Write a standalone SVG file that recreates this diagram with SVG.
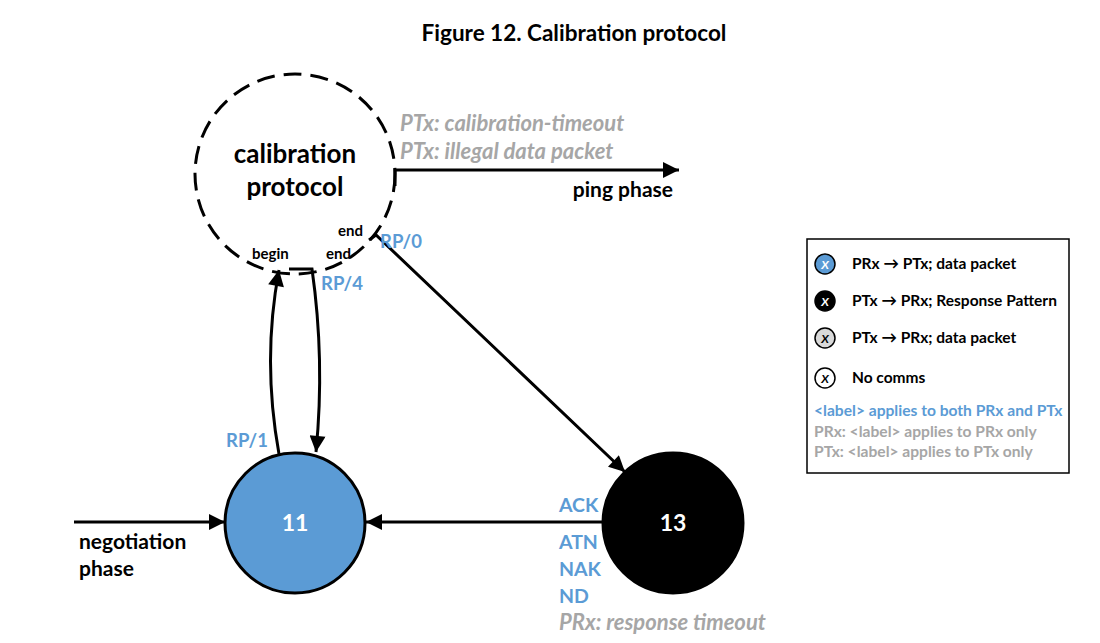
<svg xmlns="http://www.w3.org/2000/svg" width="1100" height="643" viewBox="0 0 1100 643">
<defs>
<marker id="ahb" viewBox="0 0 10 10" refX="10" refY="5" markerWidth="18" markerHeight="16" markerUnits="userSpaceOnUse" orient="auto">
<path d="M0,0 L10,5 L0,10 z" fill="#000"/>
</marker>
</defs>
<style>
text{font-family:Lato,"Liberation Sans",sans-serif;font-weight:bold}
.blk{fill:#000}
.blue{fill:#5B9BD5}
.gray{fill:#A6A6A6}
.it{font-style:italic}
.edge{fill:none;stroke:#000;stroke-width:3;marker-end:url(#ahb)}
.lg{font-size:15.5px}
.lg2{font-size:15.6px}
</style>
<rect width="1100" height="643" fill="#fff"/>
<text x="574" y="41" text-anchor="middle" font-size="22.5" class="blk">Figure 12. Calibration protocol</text>

<g id="connectors">
<path class="edge" d="M74,522 L225,522"/>
<path class="edge" d="M604,522 L366,522"/>
<path class="edge" d="M395,186 L395,170 L679,170"/>
<path class="edge" d="M369,240 L376,235 L625,472"/>
<path class="edge" d="M289,269 L312,269 Q325,360 316,452"/>
<path class="edge" d="M279,454 Q262,360 279,270"/>
</g>

<g id="calibration">
<circle cx="295" cy="174" r="100" fill="none" stroke="#000" stroke-width="3" stroke-dasharray="18,9"/>
<text x="295" y="163" text-anchor="middle" font-size="26" class="blk">calibration</text>
<text x="295" y="196" text-anchor="middle" font-size="26" class="blk">protocol</text>
<text x="252" y="259" font-size="15" class="blk">begin</text>
<text x="326" y="259" font-size="15" class="blk">end</text>
<text x="338" y="236" font-size="15" class="blk">end</text>
</g>

<g id="n11">
<circle cx="295" cy="523" r="70" fill="#5B9BD5" stroke="#000" stroke-width="3"/>
<text x="295" y="531" text-anchor="middle" font-size="23" fill="#fff">11</text>
</g>
<g id="n13">
<circle cx="673" cy="523" r="70" fill="#000" stroke="#000" stroke-width="3"/>
<text x="673" y="531" text-anchor="middle" font-size="23" fill="#fff">13</text>
</g>

<g id="labels">
<text x="400" y="131" font-size="22" class="gray it">PTx: calibration-timeout</text>
<text x="400" y="159" font-size="22" class="gray it">PTx: illegal data packet</text>
<text x="673" y="197" text-anchor="end" font-size="21" class="blk">ping phase</text>
<text x="380" y="248" font-size="18.5" class="blue">RP/0</text>
<text x="321" y="290" font-size="18.5" class="blue">RP/4</text>
<text x="226" y="447" font-size="18.5" class="blue">RP/1</text>
<text x="79" y="549" font-size="21" class="blk">negotiation</text>
<text x="79" y="576" font-size="21" class="blk">phase</text>
<text x="559" y="512" font-size="19.5" class="blue">ACK</text>
<text x="559" y="549" font-size="19.5" class="blue">ATN</text>
<text x="559" y="576" font-size="19.5" class="blue">NAK</text>
<text x="559" y="603" font-size="19.5" class="blue">ND</text>
<text x="559" y="630" font-size="22" class="gray it">PRx: response timeout</text>
</g>

<g id="legend">
<rect x="807" y="239" width="262" height="234" fill="#fff" stroke="#000" stroke-width="1.5"/>
<circle cx="825" cy="264" r="10" fill="#5B9BD5" stroke="#000" stroke-width="1.5"/>
<text x="825" y="269" text-anchor="middle" font-size="12" fill="#fff" class="it" font-weight="normal">X</text>
<circle cx="825" cy="301" r="10" fill="#000" stroke="#000" stroke-width="1.5"/>
<text x="825" y="306" text-anchor="middle" font-size="12" fill="#fff" class="it">X</text>
<circle cx="825" cy="338" r="10" fill="#D9D9D9" stroke="#000" stroke-width="1.5"/>
<text x="825" y="343" text-anchor="middle" font-size="12" fill="#000" class="it" font-weight="normal">X</text>
<circle cx="825" cy="378" r="10" fill="#fff" stroke="#000" stroke-width="1.5"/>
<text x="825" y="383" text-anchor="middle" font-size="12" fill="#000" class="it" font-weight="normal">X</text>
<text x="852" y="269" class="lg blk">PRx → PTx; data packet</text>
<text x="852" y="306" class="lg blk">PTx → PRx; Response Pattern</text>
<text x="852" y="343" class="lg blk">PTx → PRx; data packet</text>
<text x="852" y="383" class="lg blk">No comms</text>
<text x="814" y="416" class="lg2 blue">&lt;label&gt; applies to both PRx and PTx</text>
<text x="814" y="437" class="lg2 gray">PRx: &lt;label&gt; applies to PRx only</text>
<text x="814" y="457" class="lg2 gray">PTx: &lt;label&gt; applies to PTx only</text>
</g>
</svg>
